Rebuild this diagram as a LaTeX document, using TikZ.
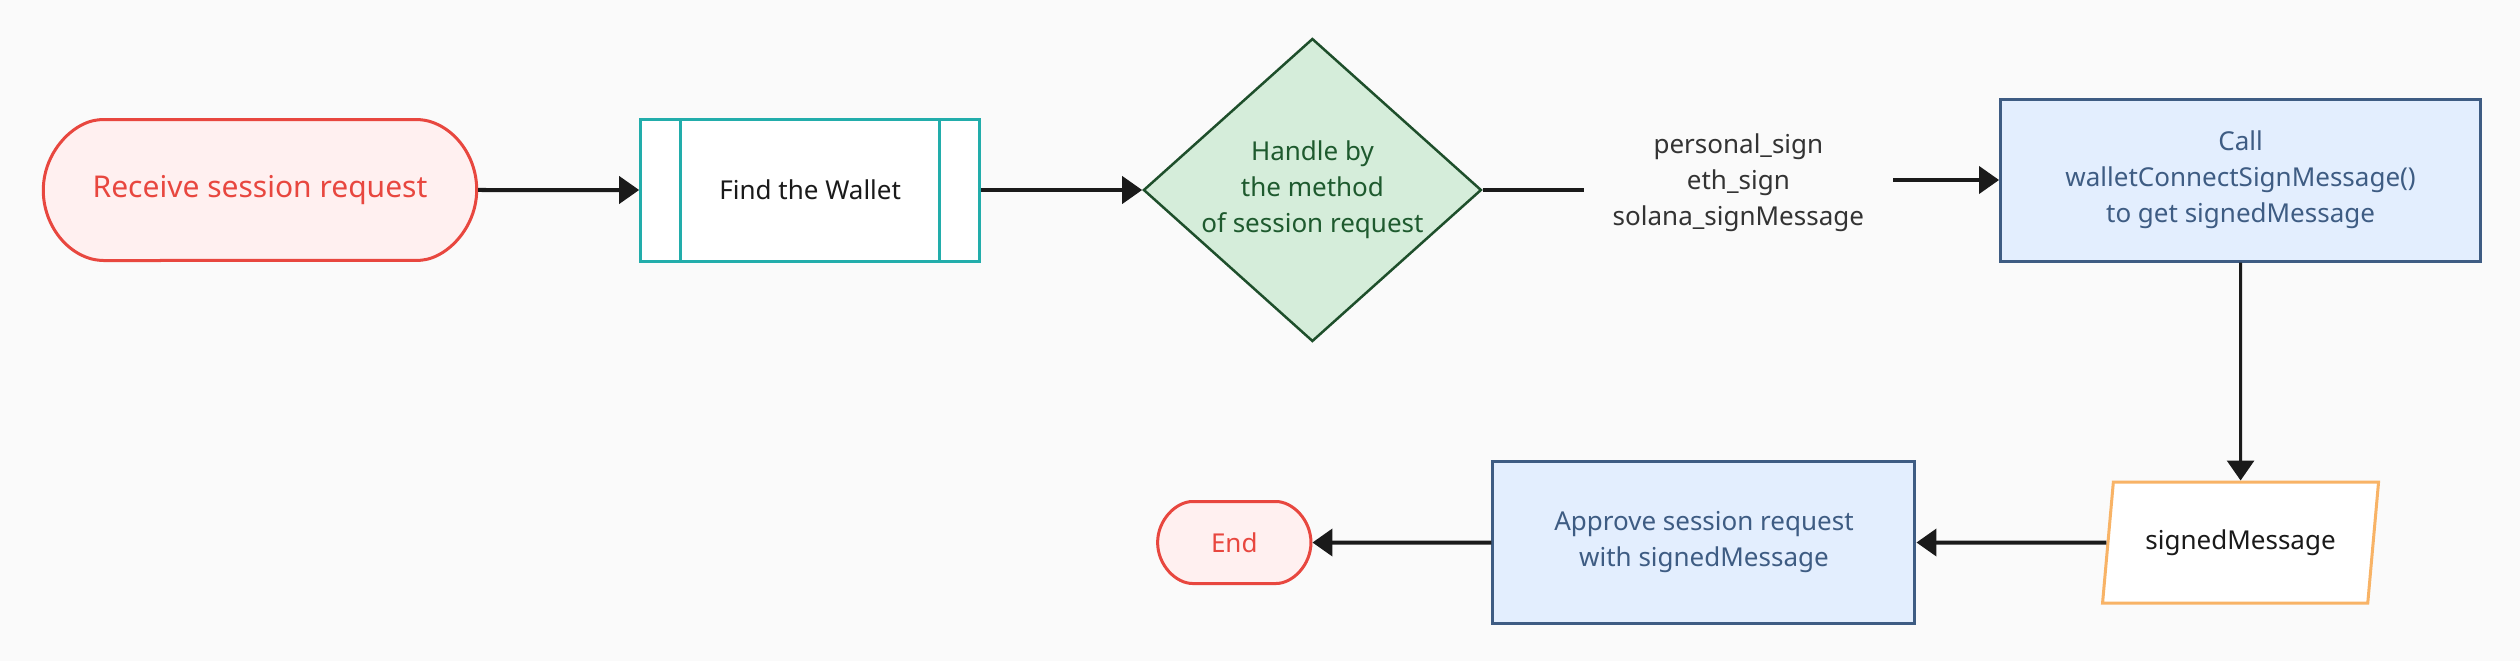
\documentclass[tikz,border=0pt]{standalone}
\usepackage{fontspec}
\setmainfont{Noto Sans}
\usetikzlibrary{shapes.geometric, shapes.misc, arrows.meta, positioning}

\definecolor{bgcol}{HTML}{FAFAFA}
\definecolor{termred}{HTML}{E8473F}
\definecolor{termfill}{HTML}{FFF0F0}
\definecolor{procteal}{HTML}{22ADAB}
\definecolor{decfill}{HTML}{D5EDDA}
\definecolor{decline}{HTML}{1E4F2B}
\definecolor{dectext}{HTML}{1E5A2E}
\definecolor{actfill}{HTML}{E3EEFE}
\definecolor{actline}{HTML}{3E5C83}
\definecolor{ioline}{HTML}{F8B366}
\definecolor{arrowcol}{HTML}{1A1A1A}

\begin{document}
\begin{tikzpicture}[
    x=1pt, y=-1pt,
    every node/.style={font=\fontsize{26}{36}\selectfont, align=center},
    terminal/.style={
        rounded rectangle,
        rounded corners=6pt,
        draw=termred,
        fill=termfill,
        text=termred,
        line width=3pt
    },
    procbox/.style={
        rectangle,
        draw=procteal,
        fill=white,
        text=arrowcol,
        line width=3pt,
        minimum width=339pt,
        minimum height=142pt,
        path picture={
            \draw[procteal, line width=3pt]
                ([xshift=40pt]path picture bounding box.north west) --
                ([xshift=40pt]path picture bounding box.south west);
            \draw[procteal, line width=3pt]
                ([xshift=-40pt]path picture bounding box.north east) --
                ([xshift=-40pt]path picture bounding box.south east);
        }
    },
    decision/.style={
        diamond,
        draw=decline,
        fill=decfill,
        text=dectext,
        line width=2.5pt,
        inner sep=-4pt,
        aspect=1.12,
        minimum width=338pt,
        minimum height=303pt
    },
    action/.style={
        rectangle,
        draw=actline,
        fill=actfill,
        text=actline,
        line width=3pt,
        minimum height=162pt
    },
    iobox/.style={
        trapezium,
        trapezium left angle=71.7,
        trapezium right angle=108.3,
        trapezium stretches body,
        draw=ioline,
        fill=white,
        text=arrowcol,
        line width=3pt,
        minimum width=276pt,
        minimum height=121pt
    },
    arrow/.style={line width=4pt, -{Triangle[length=20pt, width=27pt]}, color=arrowcol}
]

    % background and margins
    \fill[bgcol] (0,0) rectangle (2520,661);

    % Define nodes
    \node (start) [terminal, rounded rectangle arc length=150, minimum width=440pt, minimum height=141pt,
        font=\fontsize{30}{36}\selectfont] at (260,190) {Receive session request};

    \node (find) [procbox, right=161pt of start] {Find the Wallet};

    \node (decide) [decision, right=161pt of find] {Handle by\\the method\\of session request};

    % method names sit on the line between the diamond and the call box
    \node (methods) [right=101pt of decide, yshift=7pt, inner xsep=0pt, minimum width=309pt, text=black!80]
        {personal\_sign\\eth\_sign\\solana\_signMessage};

    \node (call) [action, minimum width=480pt, right=106pt of methods, yshift=3pt]
        {Call\\walletConnectSignMessage()\\to get signedMessage};

    \node (signed) [iobox, below=218pt of call] {signedMessage};

    \node (approve) [action, minimum width=422pt, left=190pt of signed.left side]
        {Approve session request\\with signedMessage};

    \node (end) [terminal, minimum width=160pt, minimum height=82pt, left=179pt of approve] {End};

    % Draw connections
    \draw [arrow] (start) -- (find);
    \draw [arrow] (find) -- (decide);

    \draw [line width=4pt, color=arrowcol] (decide) -- (decide -| methods.west);
    \draw [arrow] (methods.east |- call) -- (call);

    \draw [arrow, line width=3pt] (call) -- (signed);
    \draw [arrow] (signed) -- (approve);
    \draw [arrow] (approve) -- (end);

\end{tikzpicture}
\end{document}
